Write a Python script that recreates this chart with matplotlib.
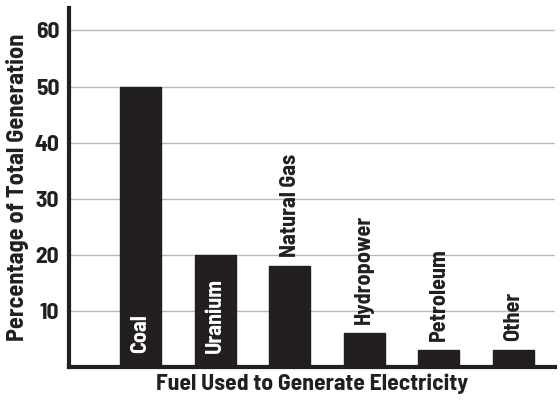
import matplotlib
matplotlib.use("Agg")
from matplotlib import pyplot as plt

# Dane wykresu
fuels = ["Coal", "Uranium", "Natural Gas", "Hydropower", "Petroleum", "Other"]
percent = [50, 20, 18, 6, 3, 3]
inside = [True, True, False, False, False, False]
y_ticks = [10, 20, 30, 40, 50, 60]

plt.rcParams['font.family'] = ['Barlow Semi Condensed', 'Barlow Condensed', 'DejaVu Sans']
plt.rcParams['font.weight'] = 'bold'

fig = plt.figure(figsize=(5.6, 4.0), dpi=100)
ax = fig.add_axes([0.123, 0.0825, 0.868, 0.8975])

x = list(range(len(fuels)))
ax.bar(x, percent, width=0.55, color="#231f20", edgecolor="#231f20", zorder=3)

for xi, name, val, ins in zip(x, fuels, percent, inside):
    if ins:
        ax.text(xi, 2.5, name, rotation=90, ha="center", va="bottom",
                color="white", fontsize=16, fontweight="bold", zorder=4)
    else:
        ax.text(xi, val + 1.6, name, rotation=90, ha="center", va="bottom",
                color="#231f20", fontsize=16, fontweight="bold", zorder=4)

ax.set_xlim(-0.96, 5.56)
ax.set_ylim(0, 64)
ax.set_yticks(y_ticks)
ax.set_xticks([])
ax.tick_params(axis="y", length=0, labelsize=17, pad=7, colors="#231f20")
ax.yaxis.grid(True, color="#b8b8b8", linewidth=1, zorder=0)

for side in ["top", "right"]:
    ax.spines[side].set_visible(False)
for side in ["left", "bottom"]:
    ax.spines[side].set_linewidth(3)
    ax.spines[side].set_color("#231f20")

ax.set_xlabel("Fuel Used to Generate Electricity", fontsize=17, fontweight="bold",
              color="#231f20", labelpad=5)
ax.set_ylabel("Percentage of Total Generation", fontsize=17.5, fontweight="bold",
              color="#231f20", labelpad=4)

fig.savefig("out.png", dpi=100)
